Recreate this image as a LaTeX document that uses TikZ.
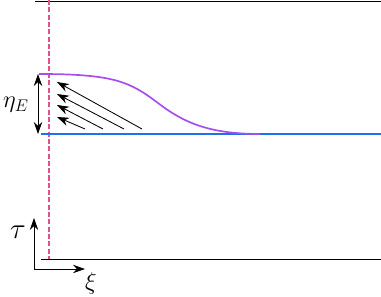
\documentclass[tikz,border=0pt]{standalone}
\usepackage{amsmath}
\usepackage{xcolor}
\definecolor{frontViolet}{HTML}{A64DF2}
\definecolor{baseBlue}{HTML}{1F6FF0}
\definecolor{markRed}{HTML}{E4508A}
\usepackage{tikz}
\usetikzlibrary{arrows.meta}

\begin{document}
\begin{tikzpicture}[>={Stealth[length=3mm,width=2.1mm]}, line width=0.6pt]
  \useasboundingbox (0,0) rectangle (9.525,7.425);
  % walls of the channel
  \coordinate (topL) at (0.875,7.40);
  \coordinate (topR) at (9.525,7.40);
  \coordinate (botL) at (1.025,0.95);
  \coordinate (botR) at (9.525,0.95);
  \draw (topL) -- (topR);
  \draw (botL) -- (botR);
  % the reference position
  \coordinate (markT) at (1.225,7.425);
  \coordinate (markB) at (1.225,0.95);
  \draw[markRed, dash pattern=on 3.6pt off 1.6pt, line width=0.8pt] (markT) -- (markB);
  % base level and the front profile
  \coordinate (baseL) at (1.025,4.075);
  \coordinate (baseR) at (9.525,4.075);
  \draw[baseBlue, line width=1.2pt] (baseL) -- (baseR);
  \coordinate (frontA) at (0.975,5.575);
  \coordinate (frontM) at (3.95,4.85);
  \coordinate (frontZ) at (6.5,4.075);
  \draw[frontViolet, line width=1.2pt] (frontA)
    .. controls (2.875,5.575) and (3.25,5.375) .. (frontM)
    .. controls (4.6,4.35) and (5.25,4.075) .. (frontZ);
  % amplitude of the front
  \coordinate (ampT) at (0.95,5.575);
  \coordinate (ampB) at (0.95,4.075);
  \draw[<->] (ampT) -- (ampB);
  \node (etaE) at (0.40,4.80) {\LARGE $\eta_E$};
  % the back-flow arrows
  \foreach \tx/\ty [count=\i] in {3.55/5.375, 3.1/5.075, 2.575/4.8, 2.125/4.5} {
    \coordinate (flow\i a) at (\tx,4.2);
    \coordinate (flow\i b) at (1.425,\ty);
    \draw[->] (flow\i a) -- (flow\i b);
  }
  % frame axes
  \coordinate (origin) at (0.85,0.70);
  \coordinate (tauEnd) at (0.85,1.975);
  \coordinate (xiEnd) at (2.125,0.70);
  \draw[->] (origin) -- (tauEnd);
  \draw[->] (origin) -- (xiEnd);
  \node (tau) at (0.45,1.62) {\huge $\tau$};
  \node (xi) at (2.27,0.34) {\LARGE $\xi$};
\end{tikzpicture}
\end{document}
